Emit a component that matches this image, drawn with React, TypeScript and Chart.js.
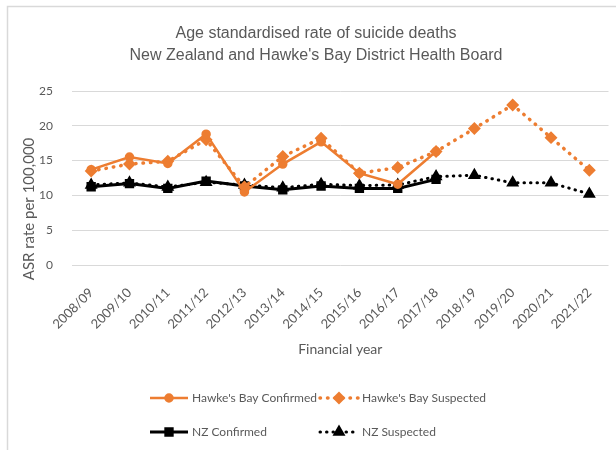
import React, { useEffect, useRef } from "react";
import { Chart, registerables } from "chart.js";
import { drawPoint } from "chart.js/helpers";

Chart.register(...registerables);

const categories = [
  "2008/09", "2009/10", "2010/11", "2011/12", "2012/13", "2013/14", "2014/15",
  "2015/16", "2016/17", "2017/18", "2018/19", "2019/20", "2020/21", "2021/22",
];
const hbConfirmed = [13.7, 15.5, 14.6, 18.8, 10.5, 14.5, 17.7, 13.2, 11.6, 16.3, null, null, null, null];
const hbSuspected = [13.5, 14.5, 14.9, 18.0, 11.2, 15.6, 18.2, 13.2, 14.0, 16.3, 19.6, 23.0, 18.3, 13.6];
const nzConfirmed = [11.25, 11.7, 11.0, 12.05, 11.35, 10.8, 11.35, 11.0, 11.0, 12.3, null, null, null, null];
const nzSuspected = [11.5, 11.8, 11.2, 11.9, 11.5, 11.1, 11.6, 11.4, 11.5, 12.7, 12.9, 11.8, 11.8, 10.2];
const seriesNames = ["Hawke's Bay Confirmed", "Hawke's Bay Suspected", "NZ Confirmed", "NZ Suspected"];
const titleLines = ["Age standardised rate of suicide deaths", "New Zealand and Hawke's Bay District Health Board"];
const yAxisTitle = "ASR rate per 100,000";
const xAxisTitle = "Financial year";

const ORANGE = "#ED7D31";
const BLACK = "#000000";
const GREY_TEXT = "#595959";
const GRID = "#d9d9d9";
const FONT = "Lato, 'Open Sans', sans-serif";

const framePlugin = {
  id: "frame",
  beforeDraw(chart: any) {
    const ctx = chart.ctx;
    ctx.save();
    ctx.strokeStyle = GRID;
    ctx.lineWidth = 1.5;
    ctx.beginPath();
    ctx.moveTo(7.5, 450);
    ctx.lineTo(7.5, 6.5);
    ctx.lineTo(616, 6.5);
    ctx.stroke();
    ctx.restore();
  },
};

const yTitlePlugin = {
  id: "yTitle",
  afterDraw(chart: any) {
    const ctx = chart.ctx;
    ctx.save();
    ctx.translate(29, 209);
    ctx.rotate(-Math.PI / 2);
    ctx.fillStyle = GREY_TEXT;
    ctx.font = `15px ${FONT}`;
    ctx.textAlign = "center";
    ctx.textBaseline = "middle";
    ctx.fillText(yAxisTitle, 0, 0);
    ctx.restore();
  },
};

const legendPlugin = {
  id: "gridLegend",
  afterDraw(chart: any) {
    const ctx = chart.ctx;
    const slots = [
      { x: 150, y: 398 },
      { x: 320, y: 398 },
      { x: 150, y: 432 },
      { x: 320, y: 432 },
    ];
    chart.data.datasets.forEach((ds: any, i: number) => {
      const s = slots[i];
      ctx.save();
      ctx.strokeStyle = ds.borderColor;
      ctx.lineWidth = ds.borderWidth;
      ctx.setLineDash(ds.borderDash || []);
      ctx.lineCap = ds.borderCapStyle || "butt";
      ctx.beginPath();
      ctx.moveTo(s.x, s.y);
      ctx.lineTo(s.x + 38, s.y);
      ctx.stroke();
      ctx.setLineDash([]);
      ctx.fillStyle = ds.pointBackgroundColor;
      ctx.strokeStyle = ds.pointBorderColor;
      drawPoint(ctx, { pointStyle: ds.pointStyle, radius: ds.pointRadius, borderWidth: 1, rotation: 0 }, s.x + 19, s.y);
      ctx.fillStyle = GREY_TEXT;
      ctx.font = `12px ${FONT}`;
      ctx.textAlign = "left";
      ctx.textBaseline = "middle";
      ctx.fillText(ds.label, s.x + 42, s.y);
      ctx.restore();
    });
  },
};

export default function App() {
  const ref = useRef<HTMLCanvasElement | null>(null);
  useEffect(() => {
    if (!ref.current) return;
    const chart = new Chart(ref.current, {
      type: "line",
      data: {
        labels: categories,
        datasets: [
          {
            label: seriesNames[0],
            data: hbConfirmed,
            borderColor: ORANGE,
            borderWidth: 2.5,
            pointStyle: "circle",
            pointRadius: 3.5,
            pointBackgroundColor: ORANGE,
            pointBorderColor: ORANGE,
            tension: 0,
          },
          {
            label: seriesNames[1],
            data: hbSuspected,
            borderColor: ORANGE,
            borderWidth: 3.5,
            borderDash: [0.5, 7],
            borderCapStyle: "round",
            pointStyle: "rectRot",
            pointRadius: 4,
            pointBackgroundColor: ORANGE,
            pointBorderColor: ORANGE,
            tension: 0,
          },
          {
            label: seriesNames[2],
            data: nzConfirmed,
            borderColor: BLACK,
            borderWidth: 3,
            pointStyle: "rect",
            pointRadius: 4.5,
            pointBackgroundColor: BLACK,
            pointBorderColor: BLACK,
            tension: 0,
          },
          {
            label: seriesNames[3],
            data: nzSuspected,
            borderColor: BLACK,
            borderWidth: 3,
            borderDash: [0.5, 6],
            borderCapStyle: "round",
            pointStyle: "triangle",
            pointRadius: 4.5,
            pointBackgroundColor: BLACK,
            pointBorderColor: BLACK,
            tension: 0,
          },
        ],
      },
      options: {
        animation: false,
        responsive: false,
        maintainAspectRatio: false,
        layout: { padding: { left: 22, right: 6, top: 0, bottom: 90 } },
        plugins: {
          legend: { display: false },
          tooltip: { enabled: false },
          title: {
            display: true,
            text: titleLines,
            color: GREY_TEXT,
            font: { family: "'Liberation Sans', Arial, sans-serif", size: 16, weight: "normal", lineHeight: 1.375 },
            padding: { top: 23, bottom: 24 },
          },
        },
        scales: {
          x: {
            offset: true,
            grid: { display: false },
            border: { display: false },
            ticks: {
              autoSkip: false,
              minRotation: 45,
              maxRotation: 45,
              color: GREY_TEXT,
              font: { family: FONT, size: 13 },
              padding: 12,
            },
            title: {
              display: true,
              text: xAxisTitle,
              color: GREY_TEXT,
              font: { family: FONT, size: 14 },
              padding: { top: 0, bottom: 2 },
            },
            afterFit: (s: any) => {
              s.height = 95;
            },
          },
          y: {
            min: 0,
            max: 25,
            ticks: {
              stepSize: 5,
              color: GREY_TEXT,
              font: { family: FONT, size: 12 },
              padding: 19,
            },
            grid: { color: GRID, drawTicks: false, lineWidth: 1 },
            border: { display: false },
            afterFit: (s: any) => {
              s.width = 50;
            },
          },
        },
      },
      plugins: [framePlugin, yTitlePlugin, legendPlugin],
    } as any);
    return () => chart.destroy();
  }, []);
  return (
    <div style={{ position: "absolute", left: 0, top: 0, width: 616, height: 450, background: "#fff" }}>
      <canvas ref={ref} width={616} height={450} style={{ width: 616, height: 450, display: "block" }} />
    </div>
  );
}
